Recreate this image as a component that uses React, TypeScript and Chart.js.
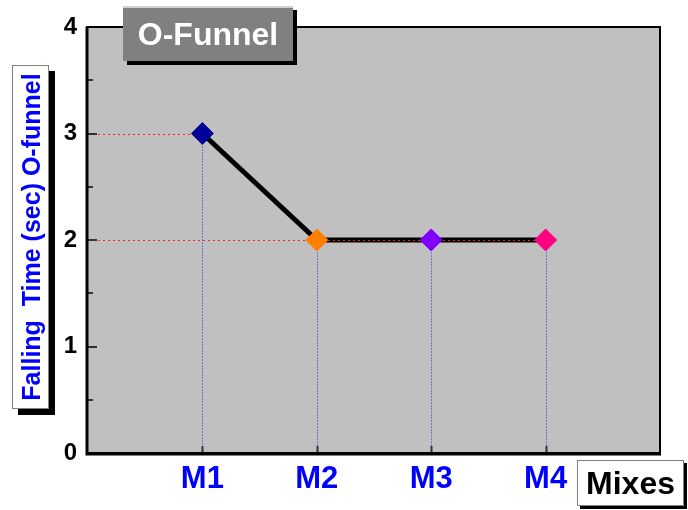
import React, { useEffect, useRef } from "react";
import { Chart, registerables } from "chart.js";

Chart.register(...registerables);

const categories = ["M1", "M2", "M3", "M4"];
const fallingTime = [3, 2, 2, 2];
const pointColors = ["#000099", "#ff8000", "#8000ff", "#ff0080"];
const yTickValues = [0, 1, 2, 3, 4];
const yMinorTickValues = [0.5, 1.5, 2.5, 3.5];
const chartTitle = "O-Funnel";
const yAxisTitle = "Falling  Time (sec) O-funnel";
const xAxisTitle = "Mixes";

const FONT = "'Liberation Sans', Arial, sans-serif";

const framePlugin = {
  id: "framePlugin",
  beforeDraw(chart: any) {
    const { ctx, chartArea: a } = chart;
    ctx.save();
    ctx.fillStyle = "#c0c0c0";
    ctx.fillRect(a.left, a.top, a.right - a.left, a.bottom - a.top);
    ctx.restore();
  },
  afterDatasetDraw(chart: any, args: any) {
    if (args.index !== 1) return;
    const { ctx, chartArea: a } = chart;
    const xs = chart.scales.x;
    const ys = chart.scales.y;
    ctx.save();
    ctx.lineWidth = 1;
    fallingTime.forEach((v, i) => {
      const px = Math.round(xs.getPixelForValue(i + 1)) + 0.5;
      const py = Math.round(ys.getPixelForValue(v)) + 0.5;
      ctx.strokeStyle = "#ff2020";
      ctx.setLineDash([2, 3]);
      ctx.beginPath();
      ctx.moveTo(a.left, py);
      ctx.lineTo(px, py);
      ctx.stroke();
      ctx.strokeStyle = "#2020ff";
      ctx.setLineDash([1, 2]);
      ctx.beginPath();
      ctx.moveTo(px, py);
      ctx.lineTo(px, a.bottom);
      ctx.stroke();
    });
    ctx.restore();
  },
  afterDraw(chart: any) {
    const { ctx, chartArea: a } = chart;
    const xs = chart.scales.x;
    const ys = chart.scales.y;
    ctx.save();
    // ticks
    ctx.strokeStyle = "#333";
    ctx.lineWidth = 2;
    yTickValues.forEach((v) => {
      const py = Math.round(ys.getPixelForValue(v));
      ctx.beginPath();
      ctx.moveTo(a.left, py);
      ctx.lineTo(a.left + 9, py);
      ctx.stroke();
    });
    yMinorTickValues.forEach((v) => {
      const py = Math.round(ys.getPixelForValue(v));
      ctx.beginPath();
      ctx.moveTo(a.left, py);
      ctx.lineTo(a.left + 5, py);
      ctx.stroke();
    });
    categories.forEach((_, i) => {
      const px = Math.round(xs.getPixelForValue(i + 1)) + 0.5;
      ctx.beginPath();
      ctx.moveTo(px, a.bottom);
      ctx.lineTo(px, a.bottom - 7);
      ctx.stroke();
    });
    // frame
    ctx.strokeStyle = "#000";
    ctx.lineWidth = 2;
    ctx.beginPath();
    ctx.moveTo(a.left - 1, a.top);
    ctx.lineTo(a.right, a.top);
    ctx.lineTo(a.right, a.bottom);
    ctx.lineTo(a.left - 1, a.bottom);
    ctx.closePath();
    ctx.stroke();
    ctx.lineWidth = 3;
    ctx.beginPath();
    ctx.moveTo(a.left - 1, a.top);
    ctx.lineTo(a.left - 1, a.bottom + 1);
    ctx.lineTo(a.right + 1, a.bottom + 1);
    ctx.stroke();
    ctx.restore();
  },
};

export default function App() {
  const canvasRef = useRef<HTMLCanvasElement | null>(null);

  useEffect(() => {
    document.body.style.margin = "0";
    const canvas = canvasRef.current;
    if (!canvas) return;
    const chart = new Chart(canvas, {
      type: "line",
      data: {
        datasets: [
          {
            label: "points",
            data: fallingTime.map((y, i) => ({ x: i + 1, y })),
            showLine: false,
            pointStyle: "rectRot",
            pointRadius: 11,
            pointBackgroundColor: pointColors,
            pointBorderColor: pointColors,
            pointBorderWidth: 1,
            order: 0,
          },
          {
            label: "line",
            data: fallingTime.map((y, i) => ({ x: i + 1, y })),
            borderColor: "#000",
            borderWidth: 5,
            pointRadius: 0,
            tension: 0,
            fill: false,
            order: 1,
          },
        ],
      },
      options: {
        animation: false,
        responsive: false,
        maintainAspectRatio: false,
        layout: { padding: { top: 27, right: 28, left: 0, bottom: 0 } },
        plugins: {
          legend: { display: false },
          tooltip: { enabled: false },
          title: { display: false },
        },
        scales: {
          x: {
            type: "linear",
            min: 0,
            max: 5,
            grid: { display: false, drawTicks: false },
            border: { display: false },
            afterFit(scale: any) {
              scale.height = 57;
            },
            afterBuildTicks(scale: any) {
              scale.ticks = categories.map((_, i) => ({ value: i + 1 }));
            },
            ticks: {
              padding: 8,
              color: "#0000ff",
              font: { family: FONT, size: 31, weight: "bold" },
              autoSkip: false,
              maxRotation: 0,
              callback: (v: any) => categories[Number(v) - 1] ?? "",
            },
          },
          y: {
            type: "linear",
            min: 0,
            max: 4,
            grid: { display: false, drawTicks: false },
            border: { display: false },
            afterFit(scale: any) {
              scale.width = 88;
            },
            afterBuildTicks(scale: any) {
              scale.ticks = yTickValues.map((v) => ({ value: v }));
            },
            ticks: {
              padding: 11,
              color: "#000",
              font: { family: FONT, size: 24, weight: "bold" },
            },
          },
        },
      },
      plugins: [framePlugin],
    } as any);
    return () => chart.destroy();
  }, []);

  return (
    <div style={{ position: "relative", width: 688, height: 510, fontFamily: FONT }}>
      <canvas ref={canvasRef} width={688} height={510} style={{ display: "block" }} />
      <div
        style={{
          position: "absolute",
          left: 123,
          top: 6,
          width: 170,
          height: 55,
          boxSizing: "border-box",
          background: "#808080",
          borderTop: "2px solid #d0d0d0",
          boxShadow: "4px 4px 0 #000",
          color: "#fff",
          fontWeight: "bold",
          fontSize: 32,
          display: "flex",
          alignItems: "center",
          justifyContent: "center",
        }}
      >
        {chartTitle}
      </div>
      <div
        style={{
          position: "absolute",
          left: 12,
          top: 65,
          width: 37,
          height: 344,
          boxSizing: "border-box",
          background: "#fff",
          border: "1px solid #808080",
          boxShadow: "6px 6px 0 #000",
        }}
      >
        <div
          style={{
            position: "absolute",
            left: "50%",
            top: "50%",
            transform: "translate(-50%, -50%) rotate(-90deg)",
            whiteSpace: "pre",
            color: "#0000ff",
            fontWeight: "bold",
            fontSize: 25,
            lineHeight: "30px",
          }}
        >
          {yAxisTitle}
        </div>
      </div>
      <div
        style={{
          position: "absolute",
          left: 577,
          top: 460,
          width: 107,
          height: 46,
          boxSizing: "border-box",
          background: "#fff",
          border: "1px solid #808080",
          boxShadow: "3px 3px 0 #000",
          color: "#000",
          fontWeight: "bold",
          fontSize: 32,
          display: "flex",
          alignItems: "center",
          justifyContent: "center",
        }}
      >
        {xAxisTitle}
      </div>
    </div>
  );
}
